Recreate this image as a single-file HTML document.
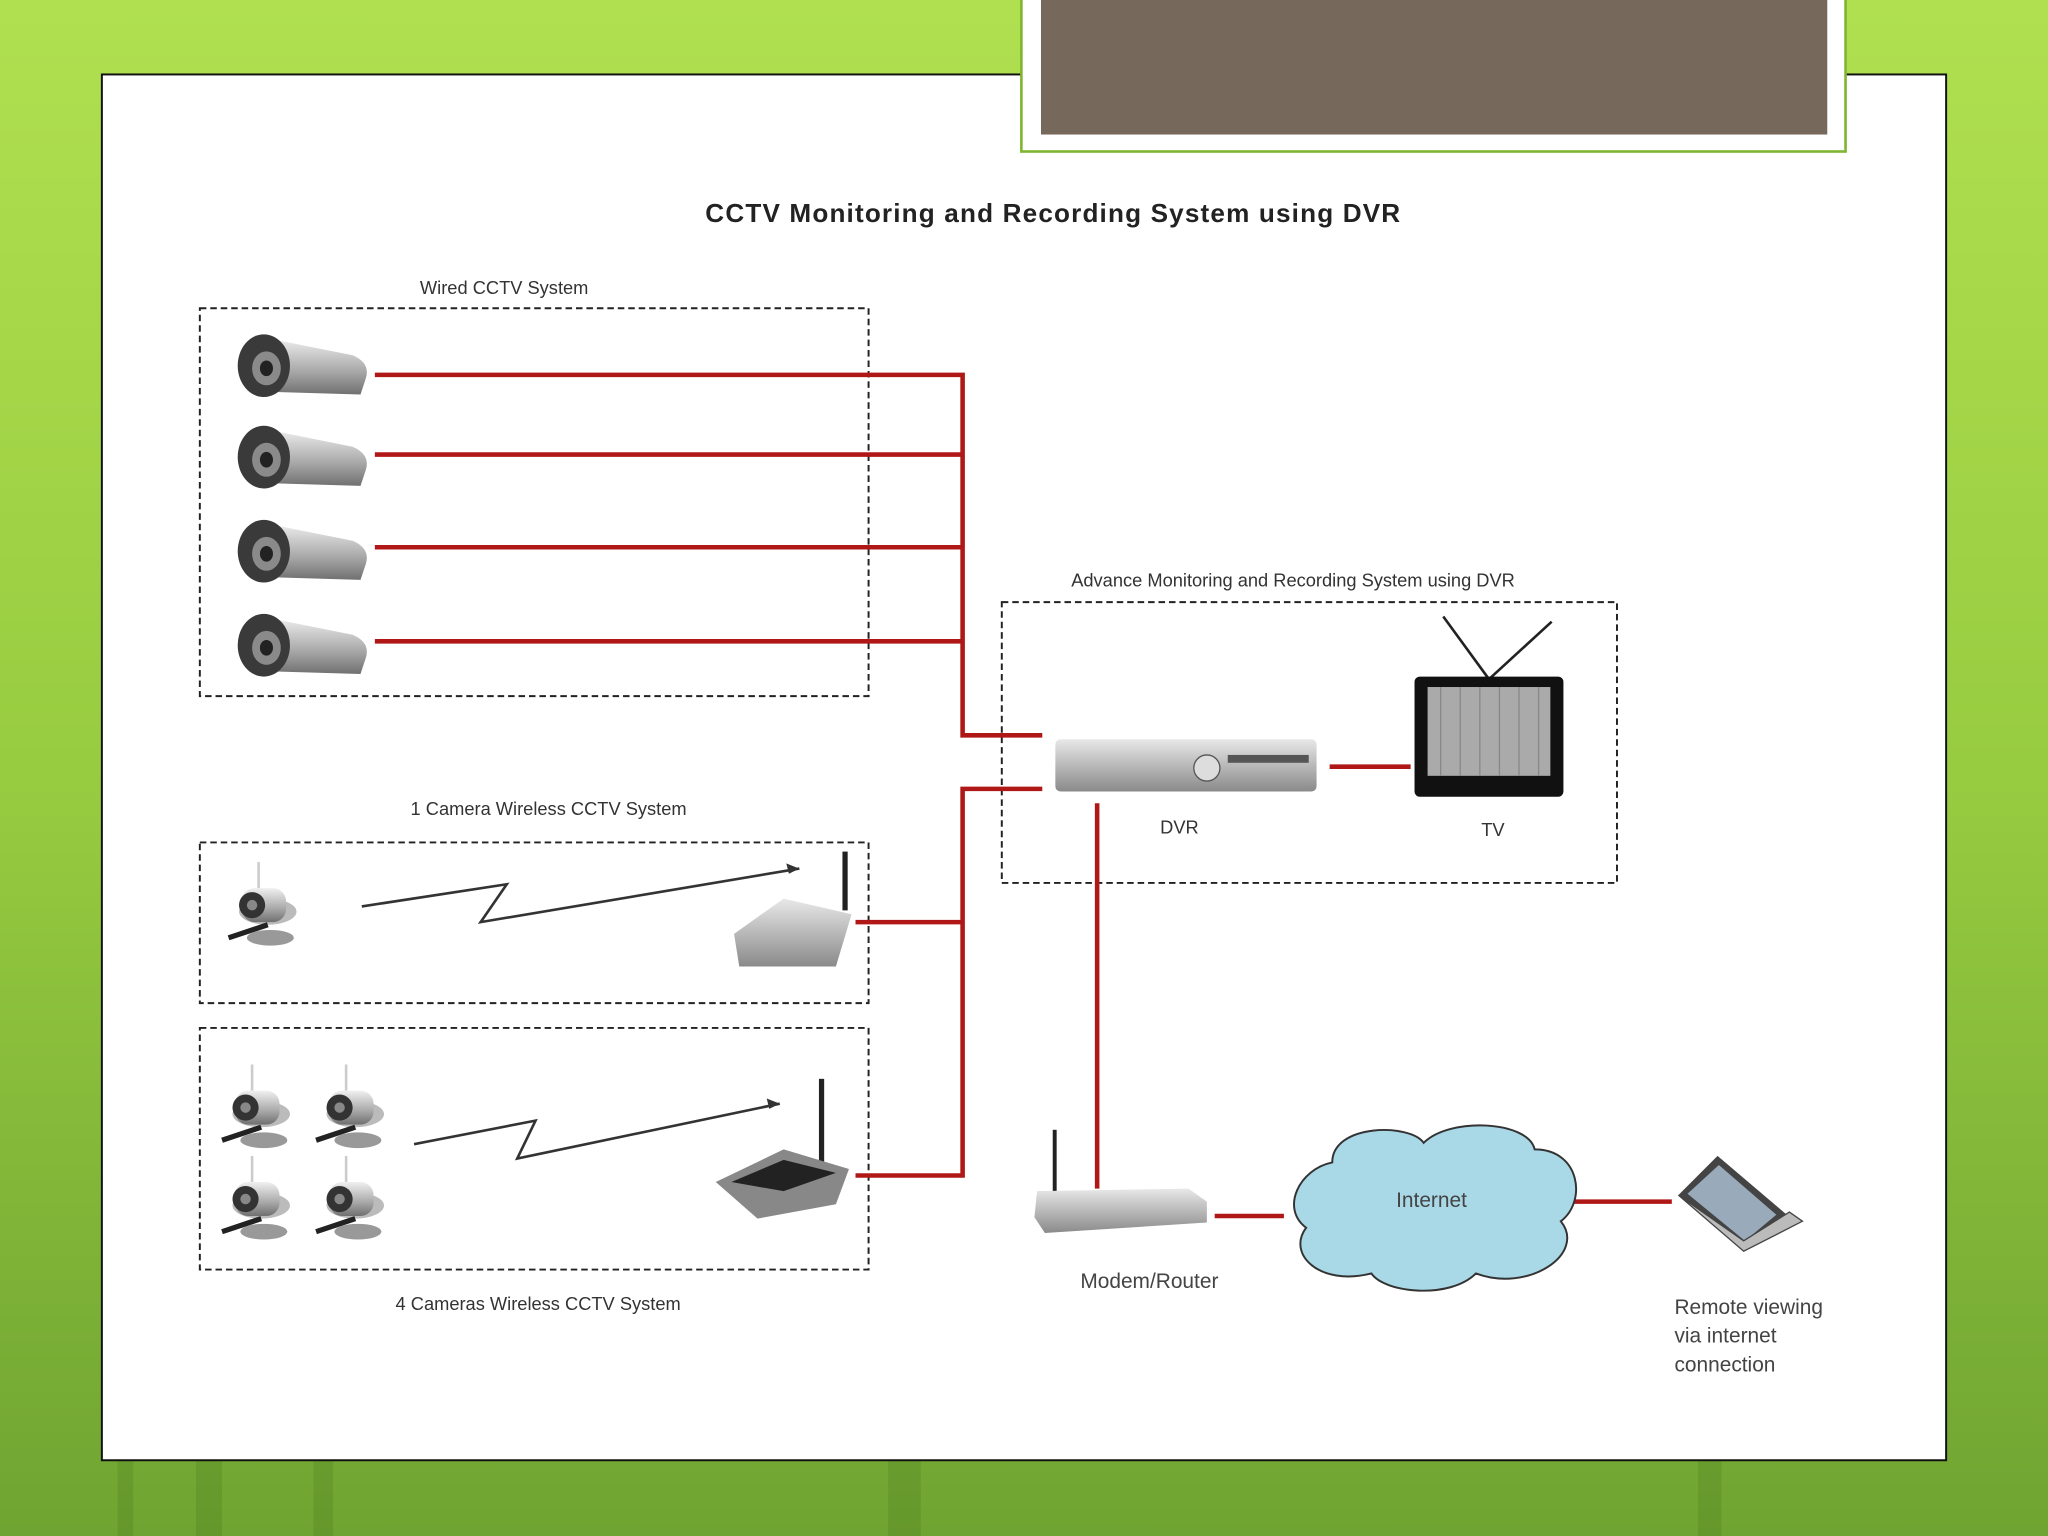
<!DOCTYPE html>
<html><head><meta charset="utf-8"><style>
html,body{margin:0;padding:0;width:2048px;height:1536px;overflow:hidden}
svg{display:block}
text{font-family:"Liberation Sans",sans-serif}
</style></head><body>
<svg width="2048" height="1536" viewBox="0 0 1568 1176" xmlns="http://www.w3.org/2000/svg">
<defs>
<linearGradient id="bg" x1="0" y1="0" x2="0" y2="1">
<stop offset="0" stop-color="#b0e050"/><stop offset="0.5" stop-color="#98cc40"/><stop offset="1" stop-color="#6fa432"/>
</linearGradient>
<linearGradient id="cam" x1="0" y1="0" x2="0" y2="1">
<stop offset="0" stop-color="#f0f0f0"/><stop offset="0.6" stop-color="#a8a8a8"/><stop offset="1" stop-color="#707070"/>
</linearGradient>
<linearGradient id="dvr" x1="0" y1="0" x2="0" y2="1">
<stop offset="0" stop-color="#e8e8e8"/><stop offset="1" stop-color="#8a8a8a"/>
</linearGradient>
<g id="bullet">
<path d="M20,8 L90,22 Q104,28 100,40 L96,52 L28,50 Z" fill="url(#cam)"/>
<ellipse cx="22" cy="30" rx="20" ry="24" fill="#3a3a3a"/>
<ellipse cx="24" cy="32" rx="11" ry="13" fill="#8a8a8a"/>
<ellipse cx="24" cy="32" rx="5" ry="6" fill="#222"/>
</g>
<g id="wcam">
<rect x="22" y="0" width="2" height="20" fill="#ccc"/>
<ellipse cx="30" cy="38" rx="22" ry="10" fill="#bbb"/>
<rect x="10" y="20" width="34" height="26" rx="10" fill="url(#cam)"/>
<circle cx="18" cy="33" r="10" fill="#333"/><circle cx="18" cy="33" r="4" fill="#888"/>
<line x1="0" y1="58" x2="30" y2="48" stroke="#222" stroke-width="4"/>
<ellipse cx="32" cy="58" rx="18" ry="6" fill="#999"/>
</g>
</defs>
<rect width="1568" height="1176" fill="url(#bg)"/>
<g opacity="0.15" fill="#2d5a10">
<rect x="90" y="1118" width="12" height="58"/><rect x="150" y="1118" width="20" height="58"/><rect x="240" y="1118" width="15" height="58"/><rect x="680" y="1118" width="25" height="58"/><rect x="1300" y="1118" width="18" height="58"/>
</g>
<rect x="78" y="57" width="1412" height="1061" fill="#fff" stroke="#111" stroke-width="1.5"/>
<rect x="782" y="-2" width="631" height="118" fill="#fff" stroke="#7fb530" stroke-width="2"/>
<rect x="797" y="0" width="602" height="103" fill="#76685a"/>
<text x="806" y="170" font-size="20" font-weight="bold" text-anchor="middle" fill="#222" textLength="532">CCTV Monitoring and Recording System using DVR</text>
<g fill="none" stroke="#222" stroke-width="1.5" stroke-dasharray="5,3">
<rect x="153" y="236" width="512" height="297"/>
<rect x="153" y="645" width="512" height="123"/>
<rect x="153" y="787" width="512" height="185"/>
<rect x="767" y="461" width="471" height="215"/>
</g>
<g fill="none" stroke="#b01818" stroke-width="3.5">
<polyline points="287,287 737,287 737,563 798,563"/>
<line x1="287" y1="348" x2="737" y2="348"/>
<line x1="287" y1="419" x2="737" y2="419"/>
<line x1="287" y1="491" x2="737" y2="491"/>
<polyline points="798,604 737,604 737,900 655,900"/>
<line x1="655" y1="706" x2="737" y2="706"/>
<line x1="840" y1="615" x2="840" y2="910"/>
<line x1="1018" y1="587" x2="1080" y2="587"/>
<line x1="930" y1="931" x2="983" y2="931"/>
<line x1="1205" y1="920" x2="1280" y2="920"/>
</g>
<use href="#bullet" x="180" y="250"/>
<use href="#bullet" x="180" y="320"/>
<use href="#bullet" x="180" y="392"/>
<use href="#bullet" x="180" y="464"/>
<use href="#wcam" x="175" y="660"/>
<use href="#wcam" x="170" y="815"/><use href="#wcam" x="242" y="815"/>
<use href="#wcam" x="170" y="885"/><use href="#wcam" x="242" y="885"/>
<g fill="none" stroke="#333" stroke-width="2">
<polyline points="277,694 388,677 368,706 612,665"/>
<polyline points="317,876 410,858 396,887 597,845"/>
</g>
<path d="M612,665 l-10,-4 l2,8z M597,845 l-10,-4 l2,8z" fill="#333"/>
<rect x="645" y="652" width="4" height="45" fill="#222"/>
<path d="M562,715 L600,688 L652,700 L640,740 L566,740 Z" fill="url(#dvr)"/>
<rect x="627" y="826" width="4" height="70" fill="#222"/>
<path d="M548,905 L600,880 L650,895 L640,922 L580,933 Z" fill="#888"/>
<path d="M560,905 L600,888 L640,898 L600,912 Z" fill="#222"/>
<rect x="808" y="566" width="200" height="40" rx="4" fill="url(#dvr)"/>
<circle cx="924" cy="588" r="10" fill="#ddd" stroke="#555"/>
<rect x="940" y="578" width="62" height="6" fill="#555"/>
<line x1="1105" y1="472" x2="1140" y2="520" stroke="#222" stroke-width="2"/>
<line x1="1188" y1="476" x2="1140" y2="520" stroke="#222" stroke-width="2"/>
<rect x="1083" y="518" width="114" height="92" rx="4" fill="#111"/>
<rect x="1093" y="526" width="94" height="68" fill="#aaa"/>
<g stroke="#888" stroke-width="1"><line x1="1103" y1="526" x2="1103" y2="594"/><line x1="1118" y1="526" x2="1118" y2="594"/><line x1="1133" y1="526" x2="1133" y2="594"/><line x1="1148" y1="526" x2="1148" y2="594"/><line x1="1163" y1="526" x2="1163" y2="594"/><line x1="1178" y1="526" x2="1178" y2="594"/></g>
<rect x="806" y="865" width="3" height="50" fill="#222"/>
<path d="M794,912 L910,910 L924,920 L924,936 L800,944 L792,932 Z" fill="url(#dvr)"/>
<path d="M1020,890 C1020,860 1080,860 1090,875 C1110,855 1170,858 1175,880 C1210,880 1215,920 1195,935 C1215,960 1170,990 1130,975 C1110,995 1060,990 1050,975 C1010,985 985,960 1000,940 C980,925 995,895 1020,890 Z" fill="#a9d8e6" stroke="#333" stroke-width="1.5"/>
<path d="M1285,915 L1315,885 L1368,930 L1335,958 Z" fill="#444"/>
<path d="M1292,914 L1316,892 L1360,930 L1336,950 Z" fill="#9ab"/>
<path d="M1285,915 L1335,958 L1380,935 L1370,928 L1335,950 Z" fill="#bbb" stroke="#444"/>
<g font-size="14" fill="#333">
<text x="386" y="225" text-anchor="middle">Wired CCTV System</text>
<text x="420" y="624" text-anchor="middle">1 Camera Wireless CCTV System</text>
<text x="412" y="1003" text-anchor="middle">4 Cameras Wireless CCTV System</text>
<text x="990" y="449" text-anchor="middle">Advance Monitoring and Recording System using DVR</text>
<text x="903" y="638" text-anchor="middle">DVR</text>
<text x="1143" y="640" text-anchor="middle">TV</text>
</g>
<g font-size="16" fill="#444">
<text x="880" y="986" text-anchor="middle">Modem/Router</text>
<text x="1096" y="924" text-anchor="middle">Internet</text>
<text x="1282" y="1006">Remote viewing</text>
<text x="1282" y="1028">via internet</text>
<text x="1282" y="1050">connection</text>
</g>
</svg>
</body></html>
